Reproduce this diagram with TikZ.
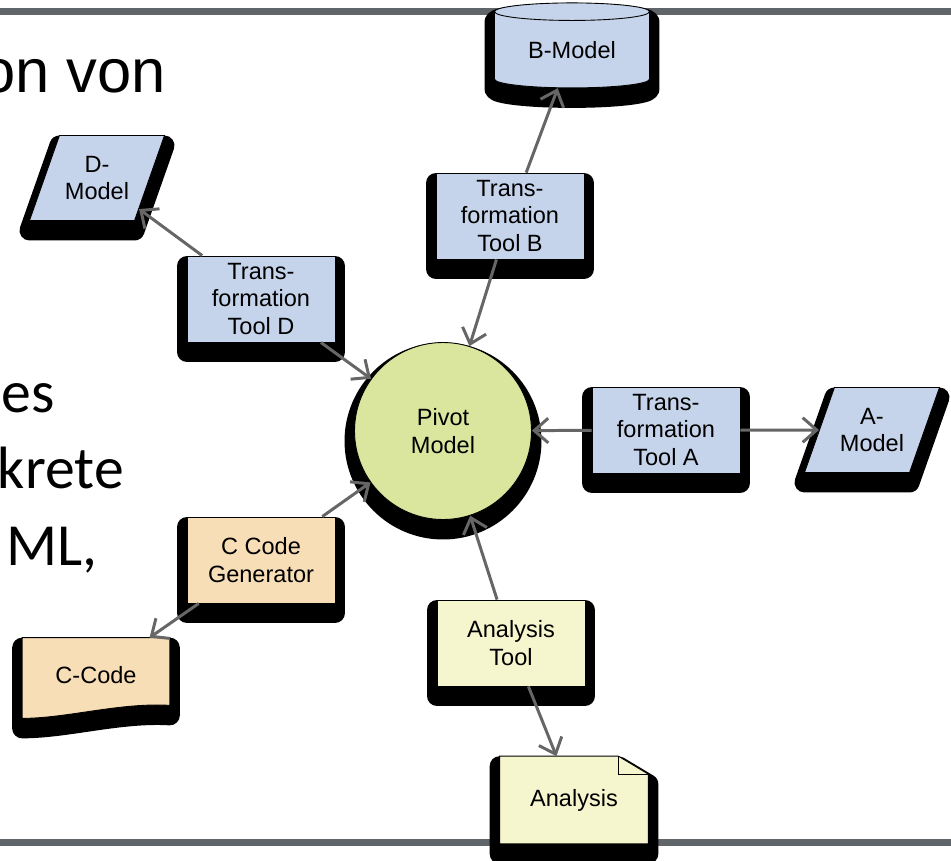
\documentclass[tikz,border=0pt]{standalone}
\usepackage{fontspec}
\setmainfont{Liberation Sans}
\newfontfamily\slidefont{Carlito}
\usetikzlibrary{shapes.geometric,shadows,arrows.meta,calc,backgrounds}

\definecolor{toolblue}{RGB}{198,212,235}
\definecolor{codeorange}{RGB}{247,222,183}
\definecolor{anayellow}{RGB}{245,245,206}
\definecolor{pivotgreen}{RGB}{218,230,158}
\definecolor{arrowgrey}{RGB}{102,102,102}
\definecolor{bargrey}{RGB}{95,101,105}

\begin{document}
\begin{tikzpicture}[x=0.02cm,y=-0.02cm]
\tikzset{blackshadow/.style={ %
		general shadow={draw=black,fill=black,line width=0.4cm,line join=round,shadow yshift=-0.2cm}
	},
	box/.style={ %
		draw=black,
		line width=0.5pt,
		fill=#1,
		blackshadow,
		align=center,
		inner sep=0pt,
		minimum width=2.96cm,
		minimum height=1.72cm,
		font=\fontsize{13.4}{15.9}\selectfont %
	},
	model/.style={box=toolblue,trapezium,trapezium left angle=56,trapezium right angle=124,
		trapezium stretches body,minimum width=2.7cm,minimum height=1.7cm},
	conn/.style={draw=arrowgrey,line width=1.7pt,-{Straight Barb[length=8pt,width=14pt]}}
}
\useasboundingbox (0,0) rectangle (951,860);
\begin{scope}[on background layer]
\fill[bargrey] (0,8) rectangle (951,15);
\fill[bargrey] (0,839) rectangle (951,846);
\end{scope}
% slide text
\node[anchor=base east,inner sep=0pt,font=\fontsize{35}{42}\selectfont] (txtvon) at (166,92) {on von};
\node[anchor=base east,inner sep=0pt,font=\slidefont\fontsize{34}{40}\selectfont] (txtes) at (55,412) {es};
\node[anchor=base east,inner sep=0pt,font=\slidefont\fontsize{34}{40}\selectfont] (txtkrete) at (124,488) {krete};
\node[anchor=base east,inner sep=0pt,font=\slidefont\fontsize{34}{40}\selectfont] (txtml) at (98,565) {ML,};
% tools and models
\node[box=toolblue,cylinder,shape border rotate=90,aspect=0.2,minimum width=3.1cm,minimum height=1.7cm] (bmod) at (572,50) {B-Model};
\node[box=toolblue] (tooltb) at (510,216) {Trans-\\formation\\Tool B};
\node[box=toolblue] (tooltd) at (261,299) {Trans-\\formation\\Tool D};
\node[box=toolblue] (toolta) at (666,430) {Trans-\\formation\\Tool A};
\node[model] (dmod) at (97,178) {D-\\Model};
\node[model] (amod) at (872,430) {A-\\Model};
\node[box=pivotgreen,circle,minimum size=3.54cm] (pivot) at (443,431) {Pivot\\Model};
\node[box=codeorange] (ccgen) at (261,560) {C Code\\Generator};
\node[box=anayellow] (anatool) at (511,643) {Analysis\\Tool};
\node[inner sep=0pt,minimum width=2.94cm,minimum height=1.48cm,font=\fontsize{13.4}{15.9}\selectfont] (ccode) at (96,675) {C-Code};
\node[inner sep=0pt,minimum width=2.96cm,minimum height=1.74cm,font=\fontsize{13.4}{15.9}\selectfont] (anadoc) at (574,800) {Analysis};
\begin{scope}[on background layer]
\path[draw=black,line width=0.5pt,fill=codeorange,blackshadow] (ccode.north west) -- (ccode.north east)
	-- ($(ccode.south east)+(0,-7)$) .. controls +(-50,-3) and +(45,0) .. ($(ccode.south west)+(0,6)$) -- cycle;
\path[draw=black,line width=0.5pt,fill=anayellow,blackshadow] (anadoc.north west) -- ($(anadoc.north east)+(-30,0)$)
	-- ($(anadoc.north east)+(0,18)$) -- (anadoc.south east) -- (anadoc.south west) -- cycle;
\draw[line width=0.4pt] ($(anadoc.north east)+(-30,0)$) |- ($(anadoc.north east)+(0,18)$);
\end{scope}
% connectors
\draw[conn] (tooltb) -- (bmod);
\draw[conn] (tooltb) -- (pivot);
\draw[conn] (tooltd) -- (dmod);
\draw[conn] (tooltd) -- (pivot);
\draw[conn] (toolta) -- (pivot);
\draw[conn] (toolta) -- (amod);
\draw[conn] (ccgen) -- (pivot);
\draw[conn] (ccgen) -- (ccode);
\draw[conn] (anatool) -- (pivot);
\draw[conn] (anatool) -- (anadoc);
\end{tikzpicture}
\end{document}
